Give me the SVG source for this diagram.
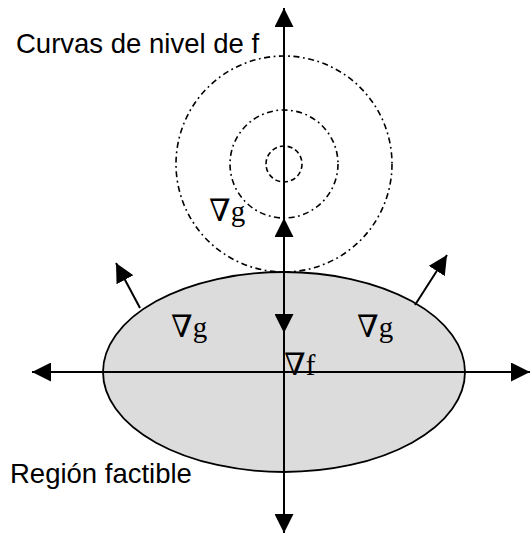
<svg xmlns="http://www.w3.org/2000/svg" width="531" height="537" viewBox="0 0 531 537">
  <defs>
    <marker id="ah" viewBox="0 0 19 19" refX="19" refY="9.5" markerWidth="19" markerHeight="19" markerUnits="userSpaceOnUse" orient="auto-start-reverse">
      <path d="M0,0 L19,9.5 L0,19 Z" fill="#000"/>
    </marker>
  </defs>
  <style>
    .sans { font-family: "Liberation Sans", Arial, sans-serif; font-size: 27.5px; fill: #000; }
    .serif { font-family: "Liberation Serif", "DejaVu Serif", serif; font-size: 29px; fill: #000; }
    .nab { font-family: "DejaVu Serif", serif; font-size: 31px; }
    .ln { stroke: #000; stroke-width: 2; fill: none; }
    .lv { stroke: #000; fill: none; }
  </style>
  <rect width="531" height="537" fill="#fff"/>
  <g id="region">
    <ellipse cx="284" cy="372" rx="181" ry="100" fill="#dcdcdc" stroke="#000" stroke-width="1.8"/>
  </g>
  <g id="level-curves">
    <circle cx="284" cy="164" r="108" class="lv" stroke-width="1.6" stroke-dasharray="6 3.5 1.8 3.5"/>
    <circle cx="284" cy="164" r="54" class="lv" stroke-width="1.6" stroke-dasharray="6 3.5 1.8 3.5"/>
    <circle cx="284" cy="164" r="18" class="lv" stroke-width="1.6" stroke-dasharray="5 3"/>
  </g>
  <g id="connectors">
    <line x1="284" y1="8" x2="284" y2="533" class="ln" marker-start="url(#ah)" marker-end="url(#ah)"/>
    <line x1="32" y1="372" x2="530" y2="372" class="ln" stroke-width="1.6" marker-start="url(#ah)" marker-end="url(#ah)"/>
    <line x1="284" y1="272" x2="284" y2="218" class="ln" stroke-width="2.4" marker-end="url(#ah)"/>
    <line x1="284" y1="272" x2="284" y2="333" class="ln" stroke-width="2.4" marker-end="url(#ah)"/>
    <line x1="140" y1="308" x2="116" y2="263" class="ln" marker-end="url(#ah)"/>
    <line x1="415" y1="305" x2="447" y2="255" class="ln" marker-end="url(#ah)"/>
  </g>
  <g id="labels">
    <text x="16" y="53" class="sans">Curvas de nivel de f</text>
    <text x="10" y="483" class="sans">Región factible</text>
    <text x="209" y="221" class="serif"><tspan class="nab">∇</tspan>g</text>
    <text x="171" y="337" class="serif"><tspan class="nab">∇</tspan>g</text>
    <text x="357" y="337" class="serif"><tspan class="nab">∇</tspan>g</text>
    <text x="284" y="375" class="serif"><tspan class="nab">∇</tspan>f</text>
  </g>
</svg>
